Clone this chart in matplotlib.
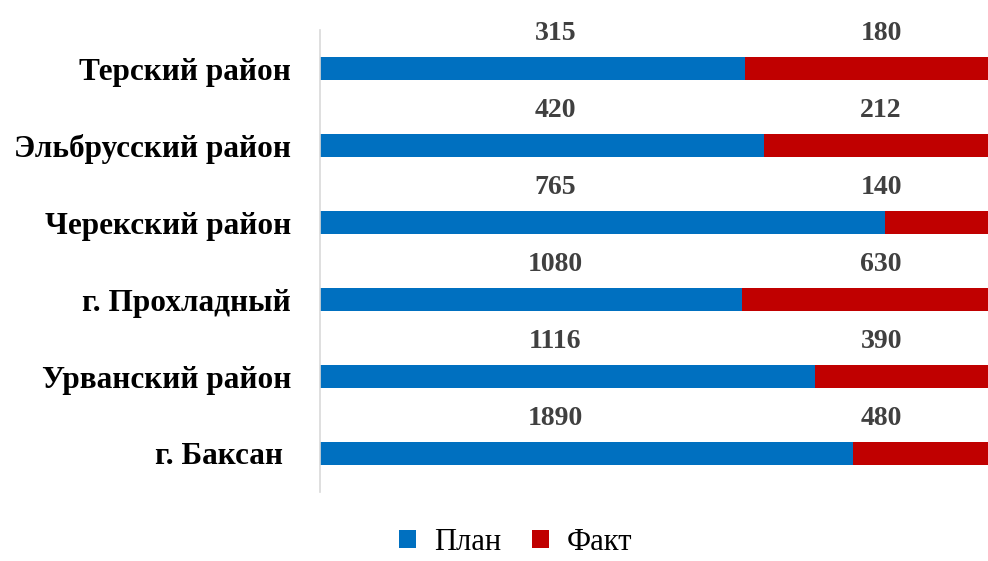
import numpy as np
import matplotlib.pyplot as plt

regions = ['Терский район', 'Эльбрусский район', 'Черекский район',
           'г. Прохладный', 'Урванский район', 'г. Баксан ']
plan = [315, 420, 765, 1080, 1116, 1890]
fact = [180, 212, 140, 630, 390, 480]

plan = np.array(plan, dtype=float)
fact = np.array(fact, dtype=float)
total = plan + fact
plan_share = plan / total
fact_share = fact / total

fig = plt.figure(figsize=(9.88, 5.61), dpi=100)
ax = fig.add_axes([0.324, 0.123, 0.676, 0.8235])

y = np.arange(len(regions))
bar_h = 0.31
ax.barh(y, plan_share, height=bar_h, color='#0070C0', label='План')
ax.barh(y, fact_share, left=plan_share, height=bar_h, color='#C00000', label='Факт')

ax.set_xlim(0, 1)
ax.set_ylim(len(regions) - 0.5, -0.5)

# value labels sit above the bars at roughly fixed positions
for i in range(len(regions)):
    ax.text(0.352, i - 0.45, f'{int(plan[i])}', ha='center', va='center',
            fontsize=20, fontweight='bold', color='#404040', family='Liberation Serif')
    ax.text(0.84, i - 0.45, f'{int(fact[i])}', ha='center', va='center',
            fontsize=20, fontweight='bold', color='#404040', family='Liberation Serif')

ax.set_yticks(y)
ax.set_yticklabels(regions, fontsize=22.5, fontweight='bold', family='Liberation Serif')
ax.tick_params(axis='y', length=0, pad=21)
ax.set_xticks([])

for s in ['top', 'right', 'bottom']:
    ax.spines[s].set_visible(False)
ax.spines['left'].set_color('#d9d9d9')
ax.spines['left'].set_linewidth(1.2)

fig.legend(loc='lower center', bbox_to_anchor=(0.522, -0.042), ncol=2, frameon=False,
           prop={'family': 'Liberation Serif', 'size': 22}, handlelength=0.55,
           handleheight=0.55, handletextpad=0.6, columnspacing=1.0)

fig.savefig('out.png', dpi=100)
